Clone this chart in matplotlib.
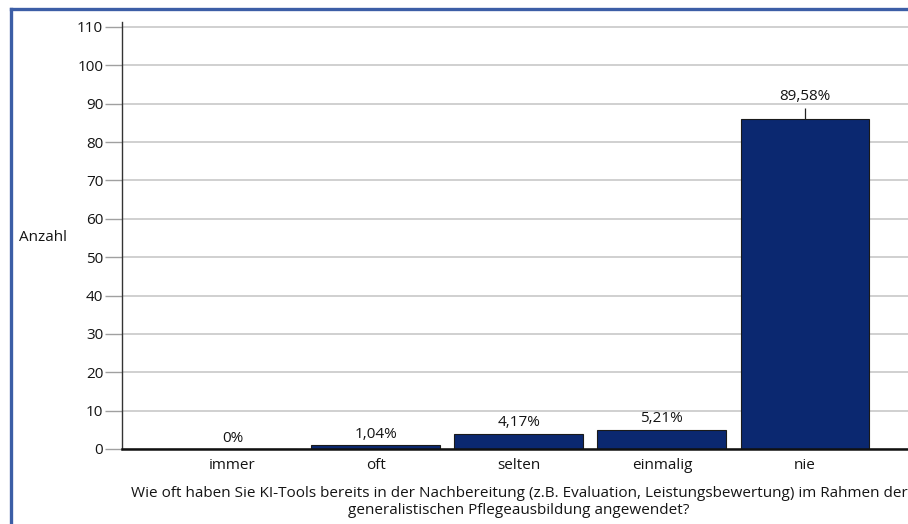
import matplotlib
matplotlib.use("Agg")
import matplotlib.pyplot as plt
from matplotlib.lines import Line2D

plt.rcParams['font.family'] = ['Open Sans', 'DejaVu Sans']

categories = ["immer", "oft", "selten", "einmalig", "nie"]
counts = [0, 1, 4, 5, 86]
percent_labels = ["0%", "1,04%", "4,17%", "5,21%", "89,58%"]
y_ticks = [0, 10, 20, 30, 40, 50, 60, 70, 80, 90, 100, 110]

question = ("Wie oft haben Sie KI-Tools bereits in der Nachbereitung (z.B. Evaluation, "
            "Leistungsbewertung) im Rahmen der\ngeneralistischen Pflegeausbildung angewendet?")

W, H = 908, 524
fig = plt.figure(figsize=(W / 100, H / 100), dpi=100)
txt_col = "#141414"
fs = 11

# blue frame, only top and left edges are inside the picture
frame_col = "#3c5ea6"
fig.lines.append(Line2D([11 / W, 11 / W], [0, 1 - 9 / H], transform=fig.transFigure,
                        color=frame_col, linewidth=2.4))
fig.lines.append(Line2D([11 / W, 1], [1 - 9 / H, 1 - 9 / H], transform=fig.transFigure,
                        color=frame_col, linewidth=2.4))

ax = fig.add_axes([122 / W, 75 / H, 1 - 122 / W, (449 - 22) / H])

x = list(range(len(categories)))
ax.bar(x, counts, width=0.9, color="#0b2870", edgecolor="#1a1a1a", linewidth=0.8, zorder=3)

ax.set_xlim(-0.773, 4.72)
ax.set_ylim(0, 111.3)
ax.set_yticks(y_ticks)
ax.set_yticklabels([str(t) for t in y_ticks], fontsize=fs, color=txt_col)
ax.yaxis.grid(True, color="#c4c4c4", linewidth=1.1, zorder=0)
ax.tick_params(axis="y", length=12, width=1, color="#a0a0a0", pad=1.5)
ax.tick_params(axis="x", length=0, pad=6.5)
ax.set_xticks(x)
ax.set_xticklabels(categories, fontsize=fs, color=txt_col)

for side in ["top", "right"]:
    ax.spines[side].set_visible(False)
ax.spines["left"].set_color("#333333")
ax.spines["left"].set_linewidth(1)
ax.spines["bottom"].set_color("#111111")
ax.spines["bottom"].set_linewidth(1.8)
ax.spines["bottom"].set_zorder(4)

for i, (c, lab) in enumerate(zip(counts, percent_labels)):
    if c > 50:
        ax.vlines(i, c, c + 2.8, color="#222222", linewidth=0.9, zorder=4)
        ax.text(i, c + 3.8, lab, ha="center", va="bottom", fontsize=fs, color=txt_col)
    else:
        ax.annotate(lab, xy=(i, c), xytext=(0, 2.5), textcoords="offset points",
                    ha="center", va="bottom", fontsize=fs, color=txt_col)

fig.text(19 / W, 1 - 238 / H, "Anzahl", fontsize=fs, color=txt_col, ha="left", va="center")
fig.text(519 / W, 1 - 502 / H, question, fontsize=fs, color=txt_col, ha="center", va="center",
         linespacing=1.1)

fig.savefig("out.png", dpi=100)
